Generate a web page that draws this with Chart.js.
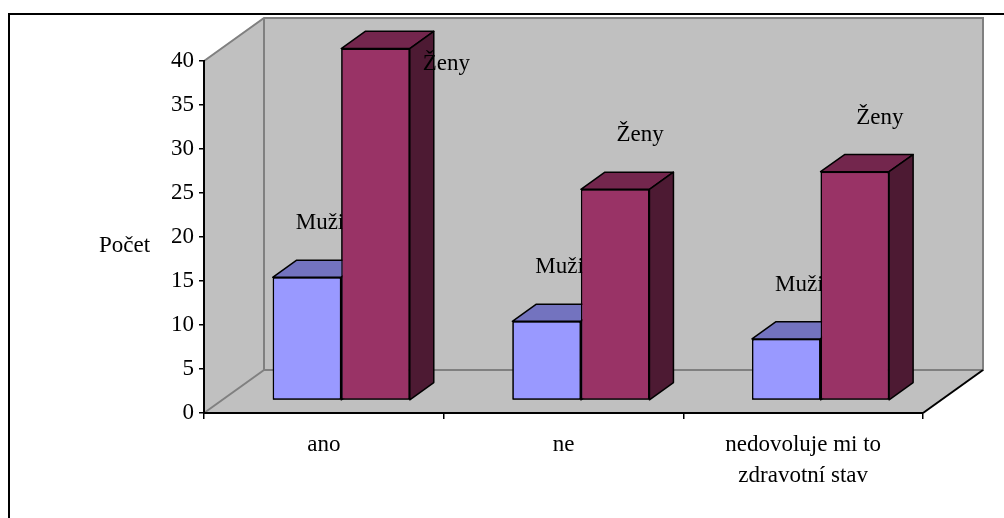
<!DOCTYPE html>
<html>
<head>
<meta charset="utf-8">
<script src="https://cdn.jsdelivr.net/npm/chart.js@4/dist/chart.umd.min.js"></script>
<style>
  html, body { margin: 0; padding: 0; background: #fff; }
  canvas { display: block; }
</style>
</head>
<body>
<canvas id="chart" width="1004" height="518"></canvas>
<script>
// --- data ---
const categories = ['ano', 'ne', ['nedovoluje mi to', 'zdravotní stav']];
const seriesNames = ['Muži', 'Ženy'];
const muzi = [14, 9, 7];
const zeny = [40, 24, 26];
const yMin = 0, yMax = 40, yStep = 5;
const axisTitle = 'Počet';

// --- look ---
const FONT = '"Liberation Serif", "Times New Roman", serif';
const FONT_SIZE = 23;
const WALL = { dx: 60, dy: -43 };         // depth of the 3-D box
const BAR_FRONT = 0.29;                    // bar front plane, as a share of the depth
const BAR_DEPTH = 0.4;                     // bar thickness, as a share of the depth
const faces = [
  { front: '#9999ff', top: '#7373bf', side: '#4d4d80', labelShift: 13 },
  { front: '#993366', top: '#73264d', side: '#4d1a33', labelShift: 25 }
];

function poly(ctx, pts, fill, stroke, lw) {
  ctx.beginPath();
  ctx.moveTo(pts[0][0], pts[0][1]);
  for (let i = 1; i < pts.length; i++) ctx.lineTo(pts[i][0], pts[i][1]);
  ctx.closePath();
  if (fill) { ctx.fillStyle = fill; ctx.fill(); }
  if (stroke) { ctx.strokeStyle = stroke; ctx.lineWidth = lw; ctx.stroke(); }
}
function line(ctx, pts, color, lw) {
  ctx.beginPath();
  ctx.moveTo(pts[0][0], pts[0][1]);
  for (let i = 1; i < pts.length; i++) ctx.lineTo(pts[i][0], pts[i][1]);
  ctx.strokeStyle = color; ctx.lineWidth = lw; ctx.stroke();
}

// top and right faces of a bar, taken from the bar element's own geometry
function barFaces(ctx, el, f) {
  const p = el.getProps(['x', 'y', 'base', 'width'], true);
  const l = p.x - p.width / 2, r = p.x + p.width / 2;
  const t = Math.min(p.y, p.base), b = Math.max(p.y, p.base);
  const bx = WALL.dx * BAR_DEPTH, by = WALL.dy * BAR_DEPTH;
  ctx.lineJoin = 'round';
  poly(ctx, [[l, t], [l + bx, t + by], [r + bx, t + by], [r, t]], f.top, '#000', 1.5);
  poly(ctx, [[r, t], [r + bx, t + by], [r + bx, b + by], [r, b]], f.side, '#000', 1.5);
}

// series name above each bar of one series (ctx is already shifted to the bar plane)
function seriesLabels(ctx, meta, i) {
  ctx.save();
  ctx.font = FONT_SIZE + 'px ' + FONT;
  ctx.fillStyle = '#000';
  ctx.textBaseline = 'middle';
  meta.data.forEach(el => {
    const p = el.getProps(['x', 'y', 'width'], true);
    const yMid = p.y - 54;
    const tooHigh = yMid + WALL.dy * BAR_FRONT - FONT_SIZE / 2 < 30;
    if (tooHigh) {
      ctx.textAlign = 'left';
      ctx.fillText(seriesNames[i], p.x + p.width / 2 + 13, p.y + 15);
    } else {
      ctx.textAlign = 'center';
      ctx.fillText(seriesNames[i], p.x + faces[i].labelShift, yMid);
    }
  });
  ctx.restore();
}

const boxPlugin = {
  id: 'box3d',
  beforeDraw(chart) {
    const { ctx, chartArea: a } = chart;
    const L = a.left, R = a.right, T = a.top, B = a.bottom, dx = WALL.dx, dy = WALL.dy;
    ctx.save();
    // frame of the figure
    line(ctx, [[9, chart.height + 2], [9, 14], [chart.width + 2, 14]], '#000', 2);
    // back wall, side wall, floor
    poly(ctx, [[L + dx, T + dy], [R + dx, T + dy], [R + dx, B + dy], [L + dx, B + dy]], '#c0c0c0');
    poly(ctx, [[L, T], [L + dx, T + dy], [L + dx, B + dy], [L, B]], '#c0c0c0');
    poly(ctx, [[L, B], [L + dx, B + dy], [R + dx, B + dy], [R, B]], '#c0c0c0');
    line(ctx, [[L, T], [L + dx, T + dy], [R + dx, T + dy], [R + dx, B + dy], [L + dx, B + dy], [L + dx, T + dy]], '#808080', 2);
    line(ctx, [[L, B], [L + dx, B + dy]], '#808080', 2);
    line(ctx, [[R, B], [R + dx, B + dy]], '#000', 2);
    ctx.restore();
  },
  beforeDatasetsDraw(chart) {
    chart.ctx.save();
    chart.ctx.translate(WALL.dx * BAR_FRONT, WALL.dy * BAR_FRONT);
  },
  afterDatasetsDraw(chart) {
    const ctx = chart.ctx;
    // repaint series by series: each series' bars, then its names,
    // so later series cover the earlier ones
    chart.data.datasets.forEach((d, i) => {
      const meta = chart.getDatasetMeta(i);
      meta.data.forEach(el => {
        el.draw(ctx, chart.chartArea);
        barFaces(ctx, el, faces[i]);
      });
      seriesLabels(ctx, meta, i);
    });
    ctx.restore();
  },
  afterDraw(chart) {
    const { ctx, chartArea: a } = chart;
    ctx.save();
    ctx.font = FONT_SIZE + 'px ' + FONT;
    ctx.fillStyle = '#000';
    ctx.textAlign = 'center';
    ctx.textBaseline = 'middle';
    ctx.fillText(axisTitle, 124.5, (a.top + a.bottom) / 2 + 9);
    ctx.restore();
  }
};

new Chart(document.getElementById('chart'), {
  type: 'bar',
  data: {
    labels: categories,
    datasets: [
      { label: seriesNames[0], data: muzi },
      { label: seriesNames[1], data: zeny }
    ].map((d, i) => Object.assign(d, {
      backgroundColor: faces[i].front,
      borderColor: '#000',
      borderWidth: 1.5,
      borderSkipped: false,
      clip: false,
      categoryPercentage: 0.572,
      barPercentage: 1
    }))
  },
  options: {
    responsive: false,
    devicePixelRatio: 1,
    animation: false,
    layout: { padding: { left: 0, top: 61, right: 81, bottom: 0 } },
    plugins: { legend: { display: false }, tooltip: { enabled: false } },
    scales: {
      x: {
        afterFit(scale) { scale.height = 105; },
        grid: { display: true, drawOnChartArea: false, drawTicks: true, tickLength: 6, color: '#000', lineWidth: 1.5, offset: true },
        border: { display: true, color: '#000', width: 2 },
        ticks: { color: '#000', padding: 10, maxRotation: 0, autoSkip: false,
                 font: { family: FONT, size: FONT_SIZE, lineHeight: 1.35 } }
      },
      y: {
        min: yMin, max: yMax,
        afterFit(scale) { scale.width = 204; },
        grid: { display: true, drawOnChartArea: false, drawTicks: true, tickLength: 5, color: '#000', lineWidth: 1.5 },
        border: { display: true, color: '#000', width: 2 },
        ticks: { stepSize: yStep, color: '#000', padding: 5,
                 font: { family: FONT, size: FONT_SIZE, lineHeight: 1 } }
      }
    }
  },
  plugins: [boxPlugin]
});
</script>
</body>
</html>
